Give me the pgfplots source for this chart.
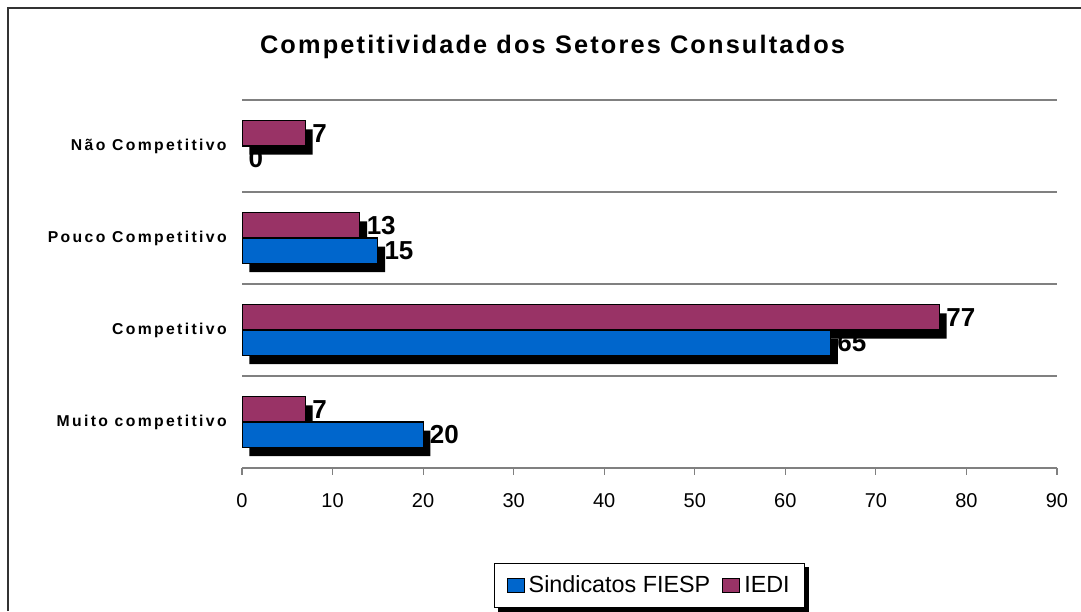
\documentclass[border=0pt]{standalone}
\usepackage{pgfplots}
\usepackage{pgfplotstable}
\pgfplotsset{compat=1.18}
\usepackage{fontspec}
\setmainfont{Liberation Sans}
\newfontfamily\titlefont[LetterSpace=8.5]{Liberation Sans Bold}
\newfontfamily\labfont[LetterSpace=15]{Liberation Sans Bold}
\usetikzlibrary{shadows}
\pgfdeclarelayer{background}
\pgfsetlayers{background,main}
\definecolor{sindblue}{RGB}{0,102,204}
\definecolor{iedi}{RGB}{153,51,102}
\definecolor{gridgray}{RGB}{128,128,128}
\pgfplotstableread{
y sind iedi
0 20 7
1 65 77
2 15 13
3 0 7
}\data
\begin{document}
\begin{tikzpicture}
\path[use as bounding box] (0pt,0pt) rectangle (810.75pt,458.25pt);
\draw[line width=1pt, black!80] (6pt,0pt) -- (6pt,452.25pt) -- (810.75pt,452.25pt);
\node[font=\titlefont\fontsize{19}{22}\selectfont, anchor=base] at (414.4pt,417.75pt) {Competitividade dos Setores Consultados};
\begin{axis}[
  at={(181.5pt,107.25pt)}, anchor=south west,
  scale only axis, width=611.25pt, height=276pt,
  xbar, bar width=19pt,
  xmin=0, xmax=90, ymin=-0.5, ymax=3.5,
  xtick={0,10,...,90},
  ytick={0,1,2,3},
  yticklabels={Muito competitivo, Competitivo, Pouco Competitivo, Não Competitivo},
  minor ytick={0.5,1.5,2.5,3.5},
  yminorgrids=true,
  minor grid style={gridgray, line width=0.9pt},
  axis x line*=bottom,
  axis y line*=left,
  y axis line style={draw=none},
  x axis line style={gridgray, line width=0.9pt},
  ytick style={draw=none},
  minor y tick style={draw=none},
  xtick style={gridgray, line width=0.9pt},
  tick align=outside,
  major tick length=5pt,
  /pgf/number format/assume math mode=true,
  xticklabel style={font=\fontsize{15}{16}\selectfont, yshift=-10.5pt},
  yticklabel style={font=\labfont\fontsize{11.8}{12}\selectfont, anchor=east, xshift=-3pt},
  nodes near coords style={font=\bfseries\fontsize{19.5}{20}\selectfont, anchor=west, text=black, xshift=1.5pt},
  legend style={name=leg, at={(0.5,-0.319)}, anchor=center, draw=black, line width=0.6pt, fill=white,
    font=\fontsize{17.5}{19}\selectfont, legend columns=2, inner xsep=9pt, inner ysep=7.5pt,
    /tikz/every odd column/.append style={column sep=1pt},
    /tikz/every even column/.append style={column sep=7pt}},
  legend cell align=left,
  legend image code/.code={\draw[#1, line width=0.8pt] (0pt,-5.5pt) rectangle (12.75pt,5pt);},
]
\addlegendimage{fill=sindblue, draw=black}
\addlegendentry{Sindicatos FIESP}
\addlegendimage{fill=iedi, draw=black}
\addlegendentry{IEDI}
% Sindicatos labels (drawn first, partly hidden by shadows, as in the original)
\addplot[forget plot, draw=none, fill=none, bar shift=-9.5pt, nodes near coords]
  table[x=sind, y=y] {\data};
% IEDI shadows
\addplot[forget plot, draw=none, fill=none, bar shift=9.5pt,
  drop shadow={shadow xshift=5.5pt, shadow yshift=-6.5pt, fill=black, opacity=1, draw=none}]
  table[x=iedi, y=y] {\data};
% Sindicatos bars with shadows
\addplot[forget plot, fill=sindblue, draw=black, line width=0.9pt, bar shift=-9.5pt,
  restrict x to domain=0.5:200,
  drop shadow={shadow xshift=5.5pt, shadow yshift=-6.5pt, fill=black, opacity=1, draw=none}]
  table[x=sind, y=y] {\data};
% IEDI bars with labels
\addplot[forget plot, fill=iedi, draw=black, line width=0.9pt, bar shift=9.5pt, nodes near coords]
  table[x=iedi, y=y] {\data};
\end{axis}
\begin{pgfonlayer}{background}
\fill[black] ([xshift=3pt,yshift=-3pt]leg.south west) rectangle ([xshift=3pt,yshift=-3pt]leg.north east);
\end{pgfonlayer}
\end{tikzpicture}
\end{document}
